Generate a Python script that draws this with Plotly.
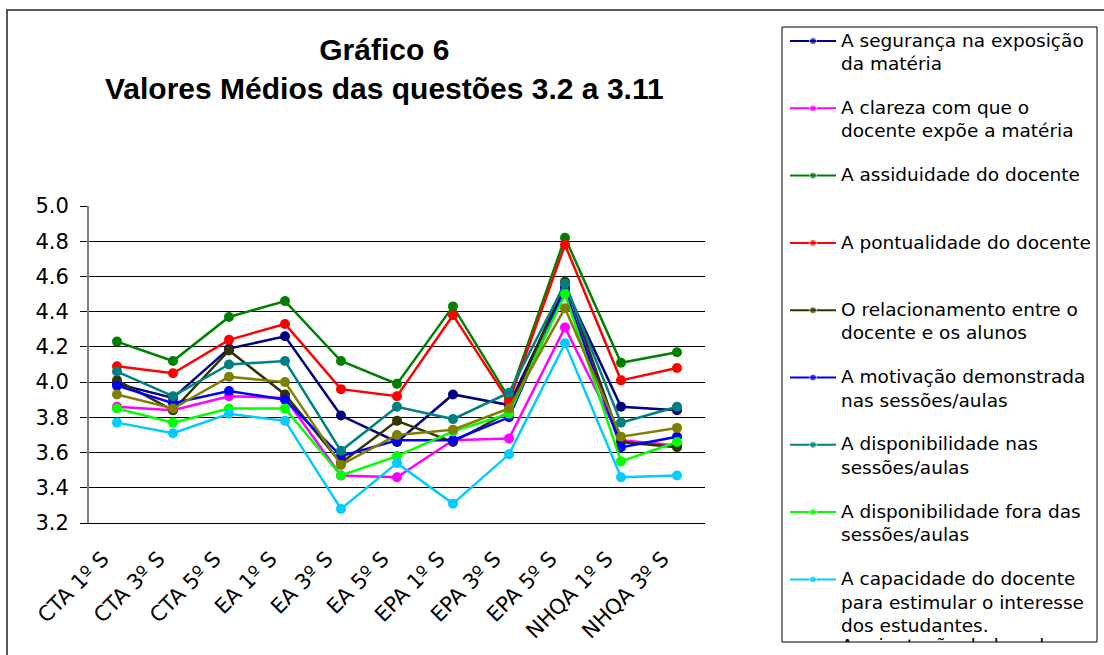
import plotly.graph_objects as go

W, H = 1104, 655

categories = ["CTA 1º S", "CTA 3º S", "CTA 5º S", "EA 1º S", "EA 3º S", "EA 5º S",
              "EPA 1º S", "EPA 3º S", "EPA 5º S", "NHQA 1º S", "NHQA 3º S"]

seguranca = [3.99, 3.91, 4.19, 4.26, 3.81, 3.66, 3.93, 3.87, 4.54, 3.86, 3.84]
clareza = [3.86, 3.84, 3.92, 3.91, 3.47, 3.46, 3.67, 3.68, 4.31, 3.67, 3.64]
assiduidade = [4.23, 4.12, 4.37, 4.46, 4.12, 3.99, 4.43, 3.91, 4.82, 4.11, 4.17]
pontualidade = [4.09, 4.05, 4.24, 4.33, 3.96, 3.92, 4.38, 3.89, 4.78, 4.01, 4.08]
relacionamento = [4.01, 3.84, 4.18, 3.93, 3.54, 3.78, 3.66, 3.83, 4.57, 3.66, 3.63]
motivacao = [3.98, 3.88, 3.95, 3.90, 3.58, 3.67, 3.67, 3.80, 4.52, 3.63, 3.69]
disp_nas = [4.06, 3.92, 4.10, 4.12, 3.61, 3.86, 3.79, 3.94, 4.56, 3.77, 3.86]
disp_fora = [3.85, 3.77, 3.85, 3.85, 3.47, 3.58, 3.72, 3.82, 4.50, 3.55, 3.66]
capacidade = [3.77, 3.71, 3.82, 3.78, 3.28, 3.54, 3.31, 3.59, 4.22, 3.46, 3.47]
orientacao = [3.93, 3.85, 4.03, 4.00, 3.53, 3.70, 3.73, 3.85, 4.42, 3.69, 3.74]

series_names = [
    "A segurança na exposição\nda matéria",
    "A clareza com que o\ndocente expõe a matéria",
    "A assiduidade do docente",
    "A pontualidade do docente",
    "O relacionamento entre o\ndocente e os alunos",
    "A motivação demonstrada\nnas sessões/aulas",
    "A disponibilidade nas\nsessões/aulas",
    "A disponibilidade fora das\nsessões/aulas",
    "A capacidade do docente\npara estimular o interesse\ndos estudantes.",
    "A orientação dada pelo\ndocente",
]
series_values = [seguranca, clareza, assiduidade, pontualidade, relacionamento,
                 motivacao, disp_nas, disp_fora, capacidade, orientacao]
series_colors = ["#000080", "#FF00FF", "#008000", "#FF0000", "#333300",
                 "#0000FF", "#008080", "#00FF00", "#00CCFF", "#808000"]

y_ticks = [3.2, 3.4, 3.6, 3.8, 4.0, 4.2, 4.4, 4.6, 4.8, 5.0]

title_lines = ["Gráfico 6", "Valores Médios das questões 3.2 a 3.11"]


def px_x(p):
    return p / W


def px_y(p):
    return 1 - p / H


# plot area in pixels
PL, PR, PT, PB = 89, 705, 206, 523
# legend box in pixels
LL, LR, LT, LB = 782, 1097, 27, 642

fig = go.Figure()

for name, vals, col in zip(series_names, series_values, series_colors):
    fig.add_trace(go.Scatter(
        x=categories, y=vals, mode="lines+markers", name=name.replace("\n", " "),
        line=dict(color=col, width=2.5), marker=dict(color=col, size=10),
        xaxis="x", yaxis="y", showlegend=False, hoverinfo="skip",
    ))

# custom legend (clipped inside its box like the original)
entry_gap = 67.3
line_gap = 23.5
first_y = 14
text_x, text_y, text_s = [], [], []
for i, (name, col) in enumerate(zip(series_names, series_colors)):
    ly = first_y + i * entry_gap
    fig.add_trace(go.Scatter(
        x=[8, 31, 54], y=[ly, ly, ly], mode="lines+markers",
        line=dict(color=col, width=2), marker=dict(color=col, size=[0, 7, 0]),
        xaxis="x2", yaxis="y2", showlegend=False, hoverinfo="skip", cliponaxis=True,
    ))
    for j, ln in enumerate(name.split("\n")):
        text_x.append(59)
        text_y.append(ly + 1 + j * line_gap)
        text_s.append(ln)

fig.add_trace(go.Scatter(
    x=text_x, y=text_y, text=text_s, mode="text", textposition="middle right",
    textfont=dict(family="DejaVu Sans", size=18.5, color="black"),
    xaxis="x2", yaxis="y2", showlegend=False, hoverinfo="skip", cliponaxis=True,
))

fig.update_layout(
    template="none",
    width=W, height=H, autosize=False,
    margin=dict(l=0, r=0, t=0, b=0, pad=0, autoexpand=False),
    paper_bgcolor="white", plot_bgcolor="white",
    showlegend=False,
    font=dict(family="DejaVu Sans", color="black"),
    xaxis=dict(
        domain=[px_x(PL), px_x(PR)], anchor="y", type="category",
        range=[-0.5, len(categories) - 0.5], automargin=False,
        showline=True, linecolor="black", linewidth=1, showgrid=False, zeroline=False,
        ticks="", tickangle=-45, tickfont=dict(family="DejaVu Sans", size=21),
        ticktext=[c + "\u00a0\u00a0\u00a0" for c in categories], tickvals=categories,
        ticklabelstandoff=0,
    ),
    yaxis=dict(
        domain=[px_y(PB), px_y(PT)], anchor="x", range=[3.2, 5.0], automargin=False,
        tickvals=y_ticks, ticktext=[f"{v:.1f}" for v in y_ticks],
        ticks="outside", ticklen=7, tickcolor="black", tickwidth=1,
        showline=True, linecolor="#808080", linewidth=2,
        showgrid=False, zeroline=False,
        minor=dict(tickvals=y_ticks[1:-1], showgrid=True, gridcolor="black",
                   gridwidth=1, ticks=""),
        tickfont=dict(family="DejaVu Sans", size=21),
        ticklabelstandoff=7,
    ),
    xaxis2=dict(domain=[px_x(LL), px_x(LR)], anchor="y2", range=[0, LR - LL],
                visible=False, fixedrange=True, automargin=False),
    yaxis2=dict(domain=[px_y(LB), px_y(LT)], anchor="x2", range=[LB - LT, 0],
                visible=False, fixedrange=True, automargin=False),
    shapes=[
        # outer chart frame
        dict(type="rect", xref="paper", yref="paper",
             x0=px_x(7), x1=px_x(W + 20), y0=px_y(10), y1=px_y(H + 20),
             line=dict(color="#222222", width=1.5), fillcolor="rgba(0,0,0,0)"),
        # legend box
        dict(type="rect", xref="paper", yref="paper",
             x0=px_x(LL), x1=px_x(LR), y0=px_y(LT), y1=px_y(LB),
             line=dict(color="black", width=1), fillcolor="rgba(0,0,0,0)"),
    ],
    annotations=[
        dict(text="<b>" + "<br>".join(title_lines) + "</b>", xref="paper", yref="paper",
             x=px_x(384), y=px_y(31), xanchor="center", yanchor="top",
             showarrow=False, align="center",
             font=dict(family="Liberation Sans", size=30, color="black")),
    ],
)

fig.write_html(
    "out.html",
    config={"displayModeBar": False},
    post_script="document.body.style.margin='0px';document.body.style.overflow='hidden';",
)
